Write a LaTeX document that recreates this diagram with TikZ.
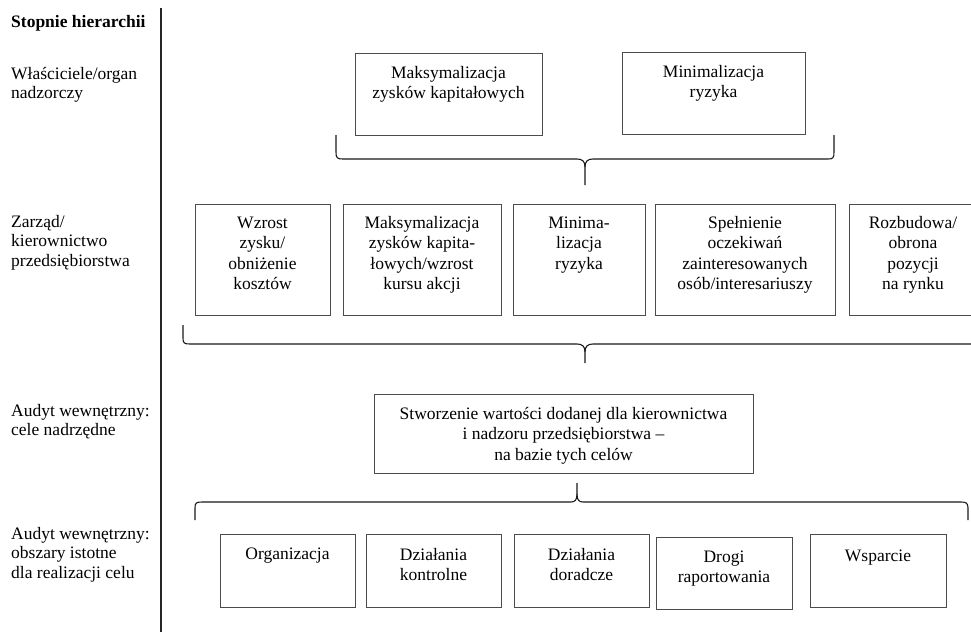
\documentclass[tikz,border=0pt]{standalone}
\usepackage{fontspec}
\setmainfont{Liberation Serif}
\begin{document}
\begin{tikzpicture}[x=1pt,y=-1pt,
  boxline/.style={draw=black!70,line width=0.9pt},
  boxtxt/.style={font=\fontsize{17.5}{20.5}\selectfont,align=center,inner sep=0pt,anchor=base},
  lbl/.style={font=\fontsize{17.5}{19.7}\selectfont,align=left,inner sep=0pt,anchor=base west},
  bracepath/.style={draw=black!90,line width=1.1pt},
  axis/.style={draw=black!85,line width=1.3pt}]
\useasboundingbox (0,0) rectangle (971,632);
% left axis
\coordinate (axT) at (161,8);
\coordinate (axB) at (161,632);
\draw[axis] (axT) -- (axB);
% level labels (anchor = baseline of last line)
\node[lbl,font=\fontsize{17.5}{19.7}\selectfont\bfseries] (h0) at (11,27) {Stopnie hierarchii};
\node[lbl] (h1) at (11,98.7) {Właściciele/organ\\nadzorczy};
\node[lbl] (h2) at (11,266.4) {Zarząd/\\kierownictwo\\przedsiębiorstwa};
\node[lbl] (h3) at (11,435.7) {Audyt wewnętrzny:\\cele nadrzędne};
\node[lbl] (h4) at (11,578.4) {Audyt wewnętrzny:\\obszary istotne\\dla realizacji celu};
% row 1
\draw[boxline] (355,53) rectangle (542,135);
\node[boxtxt] (a1) at (448.5,98.5) {Maksymalizacja\\zysków kapitałowych};
\draw[boxline] (622,52) rectangle (805,134);
\node[boxtxt] (a2) at (713.5,97.5) {Minimalizacja\\ryzyka};
% brace 1
\draw[bracepath] (336,135) -- (336,152) .. controls (336,158) and (337,159) .. (343,159) -- (577,159)
  .. controls (582,159) and (585,161) .. (585,167) -- (585,185);
\draw[bracepath] (585,167) .. controls (585,161) and (588,159) .. (593,159) -- (828,159)
  .. controls (833,159) and (834,158) .. (834,152) -- (834,135);
% row 2
\draw[boxline] (195,204) rectangle (330,315);
\node[boxtxt] (b1) at (262.5,289.5) {Wzrost\\zysku/\\obniżenie\\kosztów};
\draw[boxline] (343,204) rectangle (501,315);
\node[boxtxt] (b2) at (422,289.5) {Maksymalizacja\\zysków kapita-\\łowych/wzrost\\kursu akcji};
\draw[boxline] (513,204) rectangle (645,315);
\node[boxtxt] (b3) at (579,269) {Minima-\\lizacja\\ryzyka};
\draw[boxline] (655,204) rectangle (835,315);
\node[boxtxt] (b4) at (745,289.5) {Spełnienie\\oczekiwań\\zainteresowanych\\osób/interesariuszy};
\draw[boxline] (974,204) -- (849,204) -- (849,315) -- (974,315);
\node[boxtxt] (b5) at (913,289.5) {Rozbudowa/\\obrona\\pozycji\\na rynku};
% brace 2
\draw[bracepath] (183,325) -- (183,338) .. controls (183,343) and (184,344) .. (190,344) -- (577,344)
  .. controls (582,344) and (585,346) .. (585,352) -- (585,363);
\draw[bracepath] (585,352) .. controls (585,346) and (588,344) .. (593,344) -- (974,344);
% central box
\draw[boxline] (374,394) rectangle (753,473);
\node[boxtxt] (c1) at (563.5,460) {Stworzenie wartości dodanej dla kierownictwa\\i nadzoru przedsiębiorstwa –\\na bazie tych celów};
% brace 3
\draw[bracepath] (195,520) -- (195,508) .. controls (195,503) and (196,502) .. (202,502) -- (571,502)
  .. controls (575,502) and (577,500) .. (577,494) -- (577,483);
\draw[bracepath] (577,494) .. controls (577,500) and (579,502) .. (583,502) -- (961,502)
  .. controls (966,502) and (968,503) .. (968,508) -- (968,520);
% row 4
\draw[boxline] (220,534) rectangle (355,607);
\node[boxtxt] (d1) at (287.5,559) {Organizacja};
\draw[boxline] (366,534) rectangle (501,607);
\node[boxtxt] (d2) at (433.5,580.5) {Działania\\kontrolne};
\draw[boxline] (514,534) rectangle (649,607);
\node[boxtxt] (d3) at (581.5,580.5) {Działania\\doradcze};
\draw[boxline] (656,537) rectangle (792,609);
\node[boxtxt] (d4) at (724,582.5) {Drogi\\raportowania};
\draw[boxline] (810,534) rectangle (946,607);
\node[boxtxt] (d5) at (878,561) {Wsparcie};
\end{tikzpicture}
\end{document}
